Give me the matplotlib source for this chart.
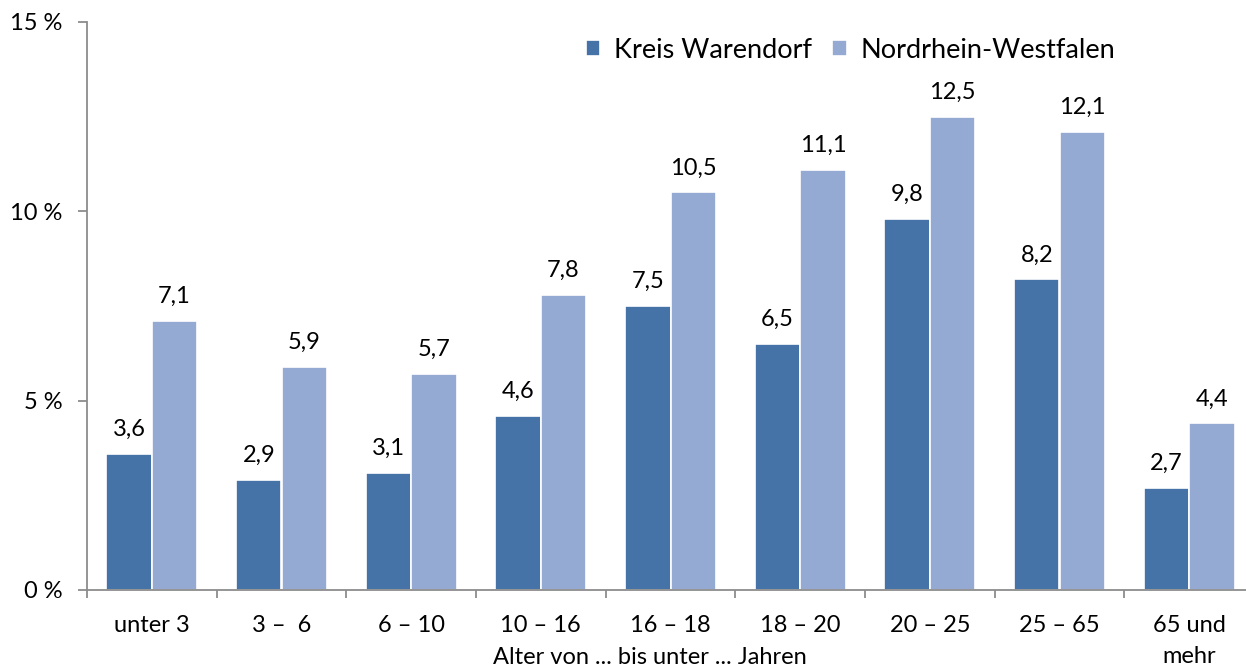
import matplotlib
matplotlib.use("Agg")
import matplotlib.pyplot as plt
import numpy as np

plt.rcParams['font.family'] = ['Lato', 'DejaVu Sans']

categories = ["unter 3", "3 –  6", "6 – 10", "10 – 16", "16 – 18",
              "18 – 20", "20 – 25", "25 – 65", "65 und\nmehr"]
warendorf = [3.6, 2.9, 3.1, 4.6, 7.5, 6.5, 9.8, 8.2, 2.7]
nrw = [7.1, 5.9, 5.7, 7.8, 10.5, 11.1, 12.5, 12.1, 4.4]

dark = "#4673a7"
light = "#94aad2"
grey = "#8c8c8c"

fig = plt.figure(figsize=(12.46, 6.70), dpi=100)
ax = fig.add_axes([87/1246, 1-590/670, (1254-87)/1246, 568/670])

x = np.arange(len(categories))
w = 0.35
b1 = ax.bar(x - w/2, warendorf, w, color=dark, edgecolor="white", linewidth=1.2,
            label="Kreis Warendorf")
b2 = ax.bar(x + w/2, nrw, w, color=light, edgecolor="white", linewidth=1.2,
            label="Nordrhein-Westfalen")

for bars, vals in [(b1, warendorf), (b2, nrw)]:
    for r, v in zip(bars, vals):
        ax.annotate(f"{v:.1f}".replace(".", ","),
                    (r.get_x() + r.get_width()/2, v),
                    xytext=(0, 10), textcoords="offset points",
                    ha="center", va="bottom", fontsize=17)

ax.set_xlim(-0.5, len(categories) - 0.5)
ax.set_ylim(0, 15)
ax.set_yticks([0, 5, 10, 15])
ax.set_yticklabels(["0 %", "5 %", "10 %", "15 %"])

ax.set_xticks(np.arange(len(categories) + 1) - 0.5)
ax.set_xticklabels([])
ax.set_xticks(x, minor=True)
ax.set_xticklabels(categories, minor=True, linespacing=1.6)
ax.tick_params(axis="x", which="minor", length=0, pad=18, labelsize=17)
ax.tick_params(axis="x", which="major", length=6, color=grey, width=1.3)
ax.tick_params(axis="y", length=6.5, color=grey, width=1.3, pad=11, labelsize=17)

ax.set_xlabel("Alter von ... bis unter ... Jahren", fontsize=17)
ax.xaxis.set_label_coords((650-87)/1167, -57/568)

for s in ["top", "right"]:
    ax.spines[s].set_visible(False)
for s in ["left", "bottom"]:
    ax.spines[s].set_color(grey)
    ax.spines[s].set_linewidth(1.3)

ax.legend(loc="upper left", bbox_to_anchor=(0.411, 1.006), ncol=2, frameon=False,
          fontsize=19.5, handlelength=0.55, handleheight=0.55, handletextpad=0.5,
          columnspacing=0.75, borderpad=0.2)

fig.savefig("out.png", dpi=100)
